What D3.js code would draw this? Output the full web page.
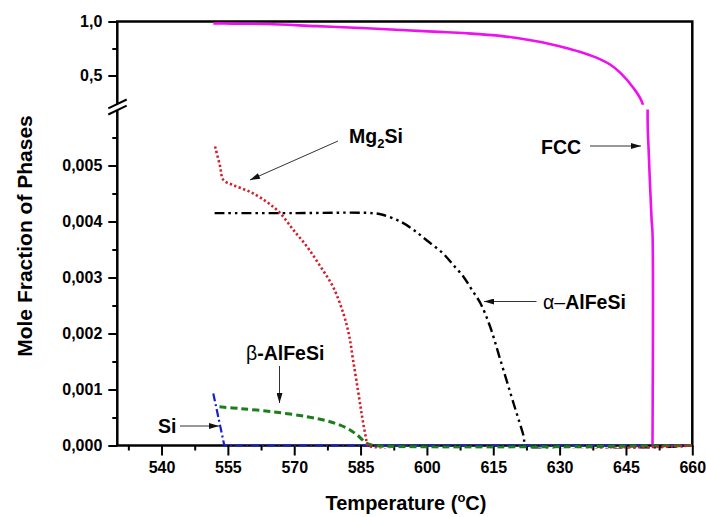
<!DOCTYPE html>
<html>
<head>
<meta charset="utf-8">
<script src="https://cdn.jsdelivr.net/npm/d3@7"></script>
<style>
  html, body { margin: 0; padding: 0; background: #fff; }
  svg { display: block; font-family: "Liberation Sans", Arial, Helvetica, sans-serif; }
  .tick text { font-size: 16px; font-weight: bold; fill: #000; }
  .tick line { stroke: #000; stroke-width: 2; }
</style>
</head>
<body>
<svg id="chart" width="706" height="517"></svg>
<script>
// Temperature (°C) and mole fraction of each phase
const fccT      = [551.7, 556.0, 563.8, 575.0, 586.4, 601.5, 609.0, 617.0, 624.1, 628.0, 631.7, 635.4, 639.2, 641.5, 643.7, 646.7, 648.6, 649.9, 650.1, 650.8, 651.0, 651.0];
const fccFrac   = [0.983, 0.980, 0.977, 0.957, 0.937, 0.906, 0.891, 0.865, 0.822, 0.790, 0.752, 0.708, 0.650, 0.600, 0.527, 0.385, 0.257, 0.00581, 0.00533, 0.00403, 0.0038, 0.0];

const mg2siT    = [552.1, 553.2, 554.0, 556.2, 560.0, 563.8, 566.8, 569.8, 572.9, 575.9, 578.8, 581.1, 582.4, 583.3, 584.4, 585.3, 586.2, 586.8, 660.0];
const mg2siFrac = [0.00534, 0.00500, 0.00474, 0.00465, 0.00453, 0.00435, 0.00415, 0.00385, 0.00355, 0.00320, 0.00283, 0.00236, 0.00197, 0.00153, 0.00099, 0.00054, 0.00015, 0.0, 0.0];

const alphaT    = [552.0, 570.0, 587.5, 590.0, 594.0, 597.0, 600.0, 603.5, 606.0, 608.3, 610.0, 612.1, 614.3, 616.6, 619.6, 621.9, 622.4, 660.0];
const alphaFrac = [0.00415, 0.00415, 0.00415, 0.00412, 0.00400, 0.00385, 0.00366, 0.00344, 0.00322, 0.00301, 0.00280, 0.00254, 0.00212, 0.00153, 0.00075, 0.00016, 0.0, 0.0];

const betaT     = [553.1, 557.8, 565.3, 572.9, 578.1, 581.9, 584.2, 586.4, 588.3, 660.0];
const betaFrac  = [0.00069, 0.00066, 0.00060, 0.000515, 0.000425, 0.00031, 0.00019, 0.00004, 0.0, 0.0];

const siT       = [551.7, 554.2, 660.0];
const siFrac    = [0.00093, 0.0, 0.0];

const xTicks      = [540, 555, 570, 585, 600, 615, 630, 645, 660];
const yUpperTicks = [0.5, 1.0];
const yLowerTicks = [0.000, 0.001, 0.002, 0.003, 0.004, 0.005];

const svg = d3.select("#chart");
const L = 117.3, R = 692.3, T = 21.5, B = 445.5;

const x = d3.scaleLinear().domain([530, 660]).range([L, R]);
const yUp = d3.scaleLinear().domain([0.23, 1.0]).range([104.7, T]);
const yLow = d3.scaleLinear().domain([0, 0.006]).range([B, 109.5]);

const comma = f => v => d3.format(f)(v).replace(".", ",");

// clip regions for the two y segments
const defs = svg.append("defs");
defs.append("clipPath").attr("id", "clipUp").append("rect")
  .attr("x", L).attr("y", T).attr("width", R - L).attr("height", 104.7 - T);
defs.append("clipPath").attr("id", "clipLow").append("rect")
  .attr("x", L).attr("y", 109.5).attr("width", R - L).attr("height", B - 109.5 + 3);
defs.append("marker").attr("id", "arrow")
  .attr("viewBox", "0 0 10 6").attr("refX", 10).attr("refY", 3)
  .attr("markerWidth", 11).attr("markerHeight", 6).attr("markerUnits", "userSpaceOnUse")
  .attr("orient", "auto")
  .append("path").attr("d", "M0,0 L10,3 L0,6 Z").attr("fill", "#111");

// axes
const gx = svg.append("g").attr("transform", `translate(0,${B})`)
  .call(d3.axisBottom(x).tickValues(xTicks).tickSize(10).tickPadding(6).tickFormat(d3.format("d")));
gx.select(".domain").remove();
const gxm = svg.append("g").attr("transform", `translate(0,${B})`)
  .call(d3.axisBottom(x).tickValues(d3.range(532.5, 660, 15)).tickSize(5).tickFormat(""));
gxm.select(".domain").remove();

const gyu = svg.append("g").attr("transform", `translate(${L},0)`)
  .call(d3.axisLeft(yUp).tickValues(yUpperTicks).tickSize(9).tickPadding(6).tickFormat(comma(".1f")));
gyu.select(".domain").remove();
const gyum = svg.append("g").attr("transform", `translate(${L},0)`)
  .call(d3.axisLeft(yUp).tickValues([0.75]).tickSize(5).tickFormat(""));
gyum.select(".domain").remove();

const gyl = svg.append("g").attr("transform", `translate(${L},0)`)
  .call(d3.axisLeft(yLow).tickValues(yLowerTicks).tickSize(9).tickPadding(6).tickFormat(comma(".3f")));
gyl.select(".domain").remove();
const gylm = svg.append("g").attr("transform", `translate(${L},0)`)
  .call(d3.axisLeft(yLow).tickValues([0.0005, 0.0015, 0.0025, 0.0035, 0.0045, 0.0055]).tickSize(5).tickFormat(""));
gylm.select(".domain").remove();

// frame
svg.append("rect").attr("x", L).attr("y", T).attr("width", R - L).attr("height", B - T)
  .attr("fill", "none").attr("stroke", "#000").attr("stroke-width", 2.5);

// axis break marks
svg.append("polygon").attr("points", "108,108.5 127,99.5 127,105.5 108,114.5").attr("fill", "#fff");
svg.append("line").attr("x1", 108.3).attr("y1", 108.3).attr("x2", 126.7).attr("y2", 99.5)
  .attr("stroke", "#000").attr("stroke-width", 2);
svg.append("line").attr("x1", 108.3).attr("y1", 114.5).attr("x2", 126.7).attr("y2", 105.7)
  .attr("stroke", "#000").attr("stroke-width", 2);

// series drawn in both y segments
const smooth = d3.curveCatmullRom.alpha(0.5);
const series = [
  { t: fccT,   v: fccFrac,   color: "#ee10ee", width: 2.6, dash: null, curve: smooth },
  { t: alphaT, v: alphaFrac, color: "#000000", width: 2.4, dash: "10,4,2.5,4,2.5,4", curve: smooth },
  { t: siT,    v: siFrac,    color: "#1420d0", width: 2.2, dash: "8,3,2,3", curve: d3.curveLinear },
  { t: betaT,  v: betaFrac,  color: "#1b7d1b", width: 3, dash: "7,4", curve: smooth },
  { t: mg2siT, v: mg2siFrac, color: "#d4202e", width: 2.6, dash: "2.3,2.4", curve: smooth }
];

[["clipUp", yUp], ["clipLow", yLow]].forEach(([clip, y]) => {
  const g = svg.append("g").attr("clip-path", `url(#${clip})`);
  series.forEach(s => {
    const line = d3.line().x(d => x(d[0])).y(d => y(d[1])).curve(s.curve);
    g.append("path")
      .datum(d3.zip(s.t, s.v))
      .attr("d", line)
      .attr("fill", "none")
      .attr("stroke", s.color)
      .attr("stroke-width", s.width)
      .attr("stroke-linejoin", "round")
      .attr("stroke-dasharray", s.dash);
  });
});

// phase labels with arrows
const arrow = (x1, y1, x2, y2) => svg.append("line")
  .attr("x1", x1).attr("y1", y1).attr("x2", x2).attr("y2", y2)
  .attr("stroke", "#333").attr("stroke-width", 1).attr("marker-end", "url(#arrow)");

const mg = svg.append("text").attr("x", 349).attr("y", 143)
  .attr("font-size", 19.5).attr("font-weight", "bold");
mg.append("tspan").text("Mg");
mg.append("tspan").attr("font-size", 13).attr("dy", 5).text("2");
mg.append("tspan").attr("dy", -5).text("Si");
arrow(338, 141, 250, 180);

svg.append("text").attr("x", 541).attr("y", 153.5)
  .attr("font-size", 19.5).attr("font-weight", "bold").text("FCC");
arrow(590, 146, 641, 146);

const al = svg.append("text").attr("x", 543).attr("y", 308.5).attr("font-size", 19.5);
al.append("tspan").text("α–");
al.append("tspan").attr("font-weight", "bold").text("AlFeSi");
arrow(536.5, 301.5, 484, 301.5);

const be = svg.append("text").attr("x", 246).attr("y", 360).attr("font-size", 19.5);
be.append("tspan").text("β");
be.append("tspan").attr("font-weight", "bold").text("-AlFeSi");
arrow(279.5, 366, 279.5, 403);

svg.append("text").attr("x", 158).attr("y", 433)
  .attr("font-size", 19.5).attr("font-weight", "bold").text("Si");
arrow(180, 426, 219, 426);

// axis titles
const xt = svg.append("text").attr("x", 406).attr("y", 510).attr("text-anchor", "middle")
  .attr("font-size", 20).attr("font-weight", "bold");
xt.append("tspan").text("Temperature (");
xt.append("tspan").attr("font-size", 13).attr("dy", -8).text("o");
xt.append("tspan").attr("dy", 8).text("C)");

svg.append("text").attr("transform", "translate(32,236) rotate(-90)")
  .attr("text-anchor", "middle").attr("font-size", 21).attr("font-weight", "bold")
  .text("Mole Fraction of Phases");
</script>
</body>
</html>
